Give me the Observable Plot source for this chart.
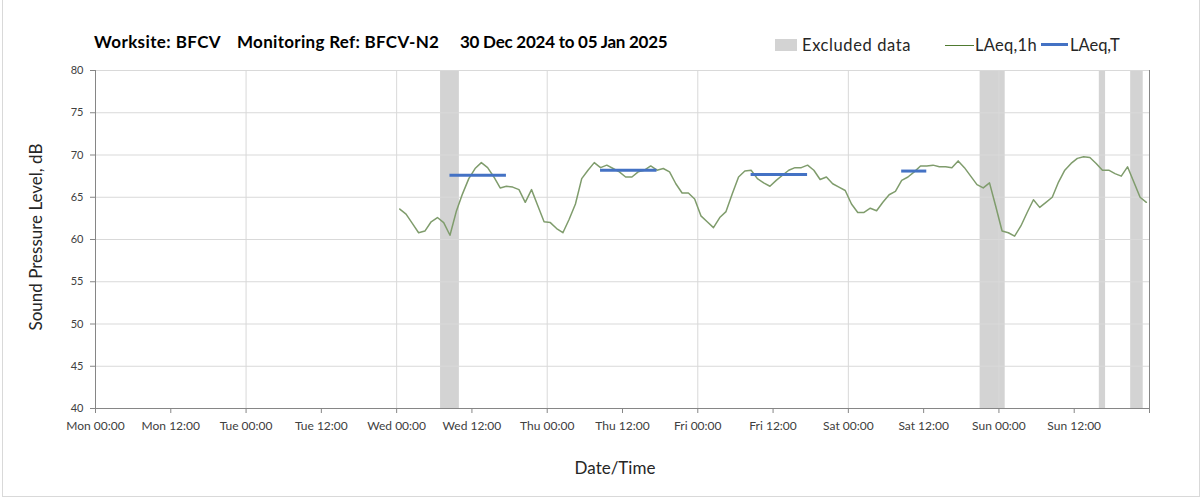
<!DOCTYPE html>
<html><head><meta charset="utf-8">
<script src="https://cdn.jsdelivr.net/npm/d3@7"></script>
<script src="https://cdn.jsdelivr.net/npm/@observablehq/plot@0.6"></script>
<style>
body{margin:0;background:#fff;font-family:Lato,"Open Sans",sans-serif;color:#262626;}
#wrap{position:relative;width:1203px;height:499px;overflow:hidden;}
#frame{position:absolute;left:2px;top:-2px;width:1198px;height:499px;border:1px solid #d9d9d9;box-sizing:border-box;pointer-events:none;}
.t{position:absolute;white-space:pre;line-height:1;}
.title{font-weight:700;font-size:17px;color:#000;top:33px;}
.leg{font-size:16.5px;top:37px;color:#262626;}
.sw{position:absolute;}
#plot{position:absolute;left:0;top:0;}
</style></head>
<body>
<div id="wrap">
  <div id="plot"></div>
  <div id="frame"></div>
  <div class="t title" style="left:94px;letter-spacing:0.4px">Worksite: BFCV</div>
  <div class="t title" style="left:237px;letter-spacing:0.3px">Monitoring Ref: BFCV-N2</div>
  <div class="t title" style="left:460px;letter-spacing:-0.25px">30 Dec 2024 to 05 Jan 2025</div>
  <div class="sw" style="left:775px;top:39px;width:22px;height:12px;background:#d3d3d3"></div>
  <div class="t leg" style="left:802px;letter-spacing:0.6px">Excluded data</div>
  <div class="sw" style="left:945px;top:45px;width:29px;height:1px;background:#4f7a30"></div>
  <div class="t leg" style="left:975px;letter-spacing:0.3px">LAeq,1h</div>
  <div class="sw" style="left:1041px;top:43px;width:27px;height:3px;background:#4472c4"></div>
  <div class="t leg" style="left:1070px">LAeq,T</div>
  <div class="t" style="left:35px;top:237px;font-size:17px;transform:translate(-50%,-50%) rotate(-90deg);">Sound Pressure Level, dB</div>
  <div class="t" style="left:615px;top:467px;font-size:17px;transform:translate(-50%,-50%);">Date/Time</div>
</div>
<script>
// ---- data ----
const xStart = "2024-12-30T00:00Z";
const xEnd = "2025-01-06T00:00Z";
const yTicks = [40, 45, 50, 55, 60, 65, 70, 75, 80];
// hourly LAeq,1h values, first value at Wed 01 Jan 2025 00:30, hourly steps
const laeq1hStart = "2025-01-01T00:30Z";
const laeq1h = [
  63.6, 63.0, 61.9, 60.8, 61.0, 62.1, 62.6, 62.0, 60.5, 63.3, 65.4, 67.2, 68.4, 69.1, 68.5, 67.4, 66.1, 66.3, 66.2, 65.9, 64.4, 65.9, 64.0, 62.1,
  62.0, 61.3, 60.8, 62.4, 64.2, 67.2, 68.2, 69.1, 68.5, 68.8, 68.4, 68.0, 67.4, 67.4, 68.0, 68.2, 68.7, 68.2, 68.4, 68.0, 66.6, 65.5, 65.5, 64.8,
  62.8, 62.1, 61.4, 62.6, 63.3, 65.4, 67.4, 68.1, 68.2, 67.2, 66.7, 66.3, 67.0, 67.6, 68.2, 68.5, 68.5, 68.8, 68.2, 67.1, 67.4, 66.6, 66.2, 65.8,
  64.2, 63.2, 63.2, 63.7, 63.4, 64.4, 65.3, 65.7, 67.0, 67.4, 68.0, 68.7, 68.7, 68.8, 68.6, 68.6, 68.5, 69.3, 68.5, 67.5, 66.5, 66.1, 66.7, 63.9,
  61.0, 60.8, 60.4, 61.6, 63.2, 64.7, 63.8, 64.4, 65.0, 66.8, 68.2, 69.0, 69.6, 69.8, 69.7, 69.0, 68.2, 68.2, 67.8, 67.5, 68.6, 66.8, 65.0, 64.4
];
// LAeq,T periods
const tStart = ["2025-01-01T08:30Z", "2025-01-02T08:30Z", "2025-01-03T08:30Z", "2025-01-04T08:30Z"];
const tEnd   = ["2025-01-01T17:30Z", "2025-01-02T17:30Z", "2025-01-03T17:30Z", "2025-01-04T12:30Z"];
const tValue = [67.6, 68.2, 67.7, 68.1];
// excluded data periods
const exStart = ["2025-01-01T07:00Z", "2025-01-04T21:00Z", "2025-01-05T16:00Z", "2025-01-05T21:00Z"];
const exEnd   = ["2025-01-01T10:00Z", "2025-01-05T01:00Z", "2025-01-05T17:00Z", "2025-01-05T23:00Z"];

// ---- build ----
const x0 = new Date(xStart), x1 = new Date(xEnd);
const t0 = new Date(laeq1hStart);
const hourly = laeq1h.map((v, i) => ({t: d3.utcHour.offset(t0, i), v}));
const periods = tValue.map((v, i) => ({start: new Date(tStart[i]), end: new Date(tEnd[i]), v}));
const excluded = exStart.map((s, i) => ({start: new Date(s), end: new Date(exEnd[i])}));
const dayTicks = d3.utcDay.range(x0, new Date(+x1 + 1));
const halfDayTicks = d3.utcHour.every(12).range(x0, new Date(+x1 + 1));
const fmt = d3.utcFormat("%a %H:%M");

const chart = Plot.plot({
  width: 1203, height: 499,
  marginLeft: 95, marginRight: 54, marginTop: 70, marginBottom: 91,
  x: {type: "utc", domain: [x0, x1]},
  y: {domain: [40, 80]},
  style: {fontFamily: "Lato, 'Open Sans', sans-serif", fontSize: "12px", color: "#404040", background: "transparent", overflow: "visible"},
  marks: [
    Plot.rect(excluded, {x1: "start", x2: "end", fill: "#d3d3d3"}),
    Plot.gridY({ticks: yTicks, stroke: "#d9d9d9", strokeOpacity: 1}),
    Plot.gridX({ticks: dayTicks, stroke: "#d9d9d9", strokeOpacity: 1}),
    Plot.axisY({ticks: yTicks, tickSize: 5, tickPadding: 7, label: null, stroke: "#868686", fontSize: 11}),
    Plot.axisX({ticks: halfDayTicks, tickSize: 5, tickPadding: 8, label: null, stroke: "#868686",
      tickFormat: d => (+d >= +x1 ? "" : fmt(d))}),
    Plot.ruleY([40], {stroke: "#868686"}),
    Plot.ruleX([x0, x1], {stroke: "#868686"}),
    Plot.line(hourly, {x: "t", y: "v", stroke: "#7f9c6c", strokeWidth: 1.5}),
    Plot.ruleY(periods, {x1: "start", x2: "end", y: "v", stroke: "#4472c4", strokeWidth: 3})
  ]
});
document.getElementById("plot").appendChild(chart);
</script>
</body></html>
